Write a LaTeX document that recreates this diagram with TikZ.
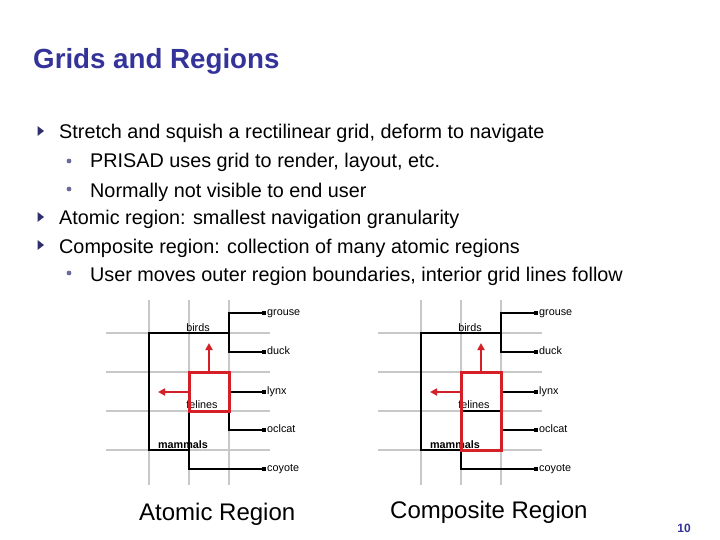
\documentclass[tikz,border=0pt]{standalone}
\usepackage{fontspec}
\setmainfont{Liberation Sans}
\usetikzlibrary{arrows.meta}

\definecolor{slidenavy}{HTML}{333399}
\definecolor{bulletnavy}{HTML}{2E2E6E}
\definecolor{dotgray}{HTML}{6A6A9A}
\definecolor{regionred}{HTML}{D62027}
\definecolor{gridgray}{HTML}{C8C8C8}

\begin{document}
\begin{tikzpicture}[x=1pt, y=-1pt,
    gridline/.style={gridgray, line width=1.4pt},
    branch/.style={black, line width=2.5pt},
    leafline/.style={branch, -{Square[length=4pt]}},
    leaf/.style={anchor=west, inner xsep=1pt, inner ysep=0pt,
      text height=7pt, text depth=2pt, font=\fontsize{10.8}{12}\selectfont},
    tag/.style={anchor=base, inner sep=0pt, font=\fontsize{10.8}{12}\selectfont},
    regionbox/.style={draw=regionred, line width=3pt, minimum width=40pt,
      inner sep=0pt, outer sep=0pt, anchor=north west},
    move/.style={regionred, line width=2.4pt, -{Triangle[length=7pt,width=7pt]}},
    bodytext/.style={anchor=base west, inner sep=0pt, font=\fontsize{19.8}{23}\selectfont},
    caption/.style={anchor=base west, inner sep=0pt, font=\fontsize{24}{28}\selectfont}]

  % page frame, pixel units (y runs down)
  \useasboundingbox (0,0) rectangle (720,540);

  % ------------------------------------------------------------------ title
  \node[anchor=base west, inner sep=0pt, slidenavy,
    font=\fontsize{27.7}{32}\selectfont\bfseries] (title) at (33,69) {Grids and Regions};

  % ---------------------------------------------------------------- bullets
  \foreach \y in {131, 217, 245}
    \fill[bulletnavy] (37.5,\y-5) -- (44,\y) -- (37.5,\y+5) -- cycle;
  \foreach \y in {161, 189, 273}
    \fill[dotgray] (69,\y) circle (2.4pt);

  \node[bodytext] (l1) at (59,139)
    {Stretch and squish a rectilinear grid, deform to navigate};
  \node[bodytext] (l2) at (90,168) {PRISAD uses grid to render, layout, etc.};
  \node[bodytext] (l3) at (90,197) {Normally not visible to end user};
  \node[bodytext] (l4) at (59,225) {Atomic region: smallest navigation granularity};
  \node[bodytext] (l5) at (59,253) {Composite region: collection of many atomic regions};
  \node[bodytext] (l6) at (90,281)
    {User moves outer region boundaries, interior grid lines follow};

  % ------------------------------------------------- the two tree pictures
  % Same tree twice; only the red region differs (one cell vs. two cells).
  \foreach \dx/\bh/\nm in {0/39/atom, 272/78/comp} {
    \begin{scope}[xshift=\dx pt]
      % layout grid
      \foreach \x in {149, 189, 229}
        \draw[gridline] (\x,300) -- (\x,485);
      \foreach \y in {333, 372, 411, 450}
        \draw[gridline] (106,\y) -- (270,\y);

      % junctions
      \coordinate (\nm-bC) at (149,333);
      \coordinate (\nm-bJ) at (229,333);
      \coordinate (\nm-mC) at (149,450);
      \coordinate (\nm-mJ) at (189,450);
      \coordinate (\nm-fL) at (189,411);
      \coordinate (\nm-fJ) at (229,411);

      % leaves
      \node[leaf] (\nm-grouse) at (266,313) {grouse};
      \node[leaf] (\nm-duck)   at (266,352) {duck};
      \node[leaf] (\nm-lynx)   at (266,392) {lynx};
      \node[leaf] (\nm-oclcat) at (266,430) {oclcat};
      \node[leaf] (\nm-coyote) at (266,469) {coyote};

      % branches
      \draw[branch] (\nm-bJ) -- (\nm-bC) -- (\nm-mC) -- (\nm-mJ);
      \draw[branch] (\nm-fL) -- (\nm-fJ);
      \draw[leafline] (\nm-bJ) |- (\nm-grouse.west);
      \draw[leafline] (\nm-bJ) |- (\nm-duck.west);
      \draw[leafline] (\nm-fJ) |- (\nm-lynx.west);
      \draw[leafline] (\nm-fJ) |- (\nm-oclcat.west);
      \draw[leafline] (\nm-fL) |- (\nm-coyote.west);

      % inner labels
      \node[tag] (\nm-birds)   at (198,331) {birds};
      \node[tag] (\nm-felines) at (202,408) {felines};
      \node[tag, font=\fontsize{10.8}{12}\selectfont\bfseries]
        (\nm-mammals) at (183,448) {mammals};

      % the region and its move handles
      \node[regionbox, minimum height=\bh pt] (\nm-box) at (189,372) {};
      \coordinate (\nm-up)   at (209,343);
      \coordinate (\nm-left) at (158,392);
      \draw[move] (\nm-box.north) -- (\nm-up);
      \draw[move] (\nm-box.west |- \nm-lynx.west) -- (\nm-left);
    \end{scope}
  }

  % --------------------------------------------------------------- captions
  \node[caption] (atomcap) at (139,520) {Atomic Region};
  \node[caption] (compcap) at (390,518) {Composite Region};

  \node[anchor=base, inner sep=0pt, slidenavy,
    font=\fontsize{12}{14}\selectfont\bfseries] (pageno) at (684,532) {10};

\end{tikzpicture}
\end{document}
